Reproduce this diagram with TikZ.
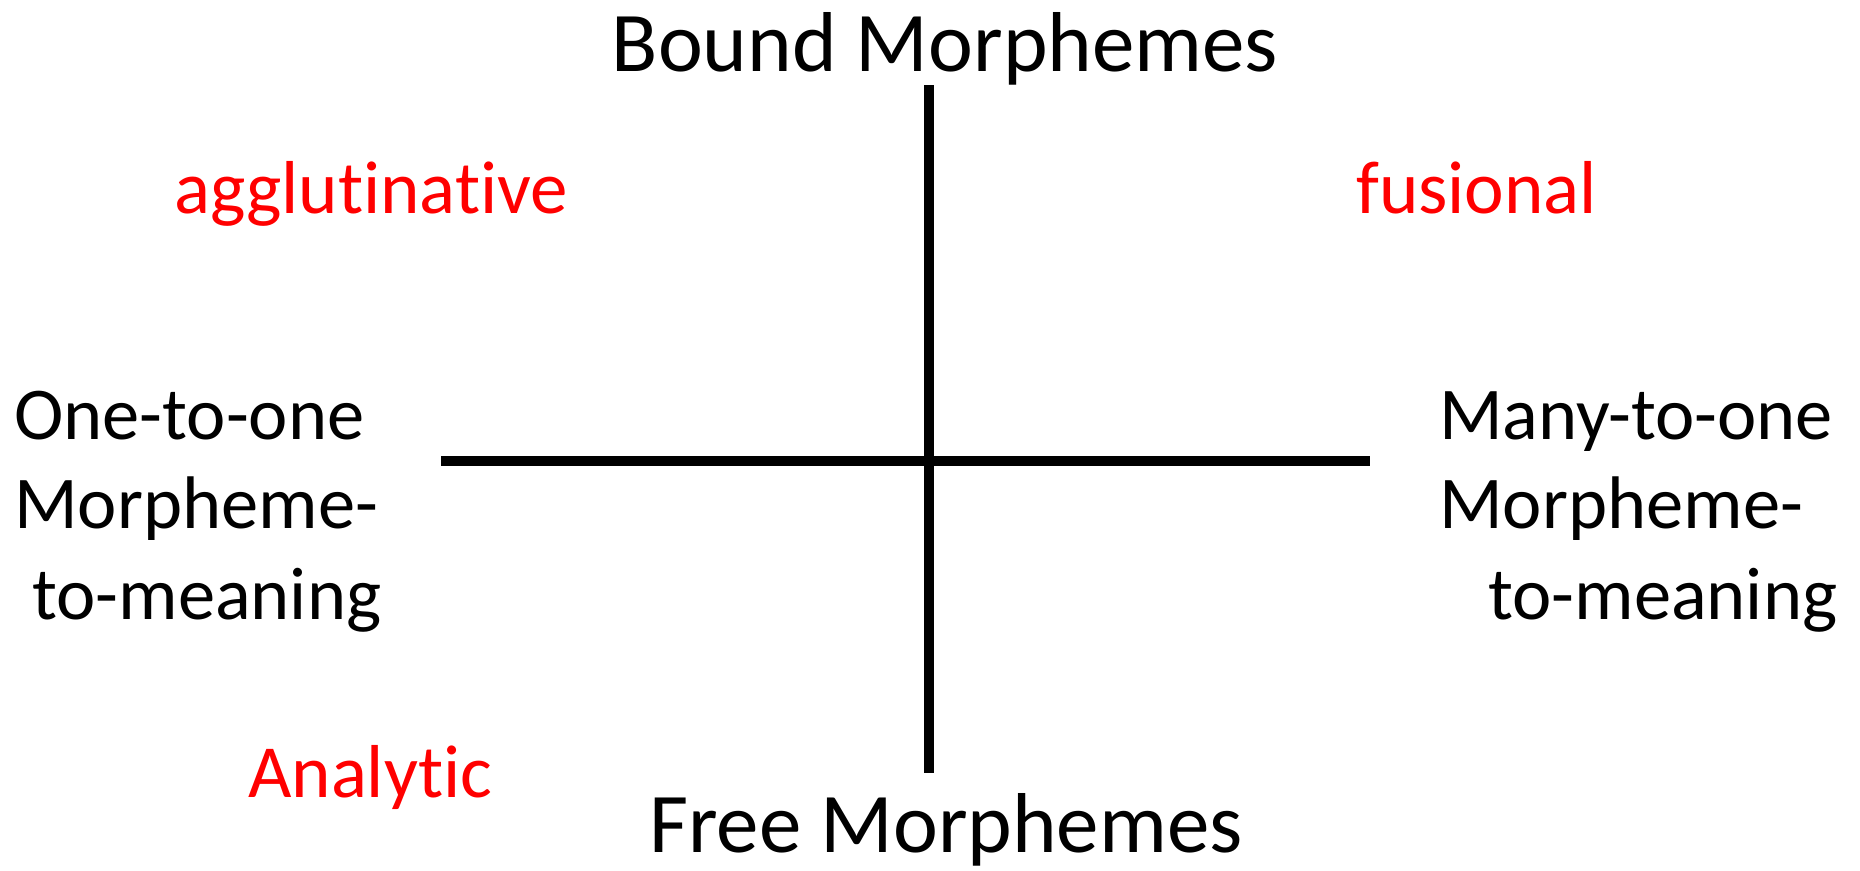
\documentclass[tikz,border=0pt]{standalone}
\usepackage{fontspec}
\setmainfont{Carlito}[Ligatures=NoCommon]
\begin{document}
\begin{tikzpicture}[x=1pt,y=-1pt,
  axis/.style={line width=9.5pt, black},
  big/.style={inner sep=0pt, anchor=base, font=\fontsize{85}{100}\selectfont},
  side/.style={inner sep=0pt, anchor=base west, font=\fontsize{74.5}{90}\selectfont},
  typ/.style={inner sep=0pt, anchor=base west, text=red, font=\fontsize{75}{90}\selectfont}]
\useasboundingbox[fill=white] (0,0) rectangle (1860,870);
\coordinate (vt) at (929,85);
\coordinate (vb) at (929,773);
\coordinate (hl) at (441,461);
\coordinate (hr) at (1370,461);
\draw[axis] (vt) -- (vb);
\draw[axis] (hl) -- (hr);
\node[big] (bound) at (945,71) {Bound Morphemes};
\node[big] (free) at (946,852) {Free Morphemes};
\node[typ] (agg) at (174,213) {agglutinative};
\node[typ] (fus) at (1356,213) {fusional};
\node[typ] (ana) at (248,797) {Analytic};
\node[side] (l1) at (14,439) {One-to-one};
\node[side] (l2) at (14,528) {Morpheme-};
\node[side] (l3) at (32,619) {to-meaning};
\node[side] (r1) at (1439,439) {Many-to-one};
\node[side] (r2) at (1439,528) {Morpheme-};
\node[side] (r3) at (1488,619) {to-meaning};
\end{tikzpicture}
\end{document}
